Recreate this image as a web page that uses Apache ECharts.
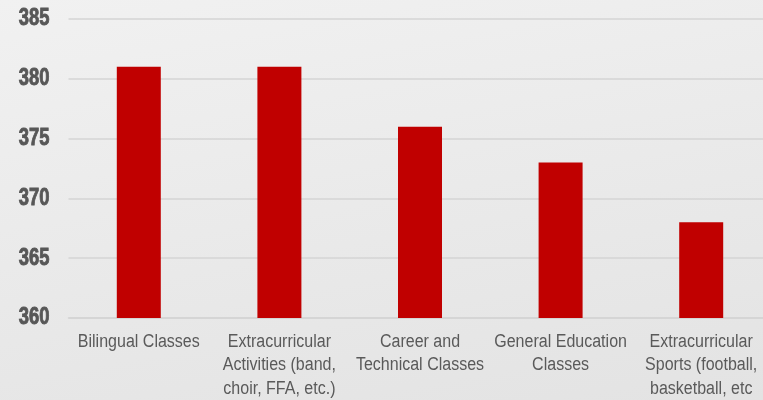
<!DOCTYPE html>
<html>
<head>
<meta charset="utf-8">
<script src="https://cdn.jsdelivr.net/npm/echarts@6/dist/echarts.min.js"></script>
<style>
  html, body { margin: 0; padding: 0; }
  body {
    width: 763px; height: 400px; overflow: hidden;
    background: linear-gradient(170deg, #f1f1f1 0%, #eaeaea 50%, #e3e3e3 100%);
  }
  #chart { width: 763px; height: 400px; }
</style>
</head>
<body>
<div id="chart"></div>
<script>
// Course categories (line breaks as shown under each bar)
const categories = [
  'Bilingual Classes',
  'Extracurricular\nActivities (band,\nchoir, FFA, etc.)',
  'Career and\nTechnical Classes',
  'General Education\nClasses',
  'Extracurricular\nSports (football,\nbasketball, etc'
];
const scores = [381, 381, 376, 373, 368];
const yTickLabels = [360, 365, 370, 375, 380, 385];

const GRID_LEFT = 68.5;
const chart = echarts.init(document.getElementById('chart'), null, { renderer: 'canvas' });

chart.setOption({
  backgroundColor: 'transparent',
  animation: false,
  grid: { left: GRID_LEFT, top: 19, width: 703, bottom: 82, containLabel: false, outerBoundsMode: 'none' },
  xAxis: {
    type: 'category',
    data: categories,
    axisTick: { show: false },
    axisLine: { show: true, lineStyle: { color: '#d4d4d4', width: 1.5 } },
    axisLabel: { show: false }
  },
  yAxis: {
    type: 'value',
    min: yTickLabels[0],
    max: yTickLabels[yTickLabels.length - 1],
    interval: yTickLabels[1] - yTickLabels[0],
    axisLine: { show: false },
    axisTick: { show: false },
    splitLine: { lineStyle: { color: '#d4d4d4', width: 1.5 } },
    axisLabel: { show: false }
  },
  series: [{
    type: 'bar',
    data: scores,
    barWidth: 44,
    itemStyle: { color: '#c00000' }
  }]
});

// Condensed tick and category labels, placed through the axes' own scales
const baseY = chart.convertToPixel({ yAxisIndex: 0 }, yTickLabels[0]);
const labels = [];
yTickLabels.forEach(v => {
  labels.push({
    type: 'text',
    x: GRID_LEFT - 19,
    y: chart.convertToPixel({ yAxisIndex: 0 }, v),
    scaleX: 0.8,
    silent: true,
    style: {
      text: String(v),
      font: 'bold 23px "Liberation Sans", Arial, sans-serif',
      fill: '#575757',
      stroke: '#575757',
      lineWidth: 0.9,
      align: 'right',
      verticalAlign: 'middle'
    }
  });
});
categories.forEach((c, i) => {
  labels.push({
    type: 'text',
    x: chart.convertToPixel({ xAxisIndex: 0 }, i),
    y: baseY + 12,
    scaleX: 0.89,
    silent: true,
    style: {
      text: c,
      font: '18px "Liberation Sans", Arial, sans-serif',
      lineHeight: 23.5,
      fill: '#5a5a5a',
      align: 'center',
      verticalAlign: 'top'
    }
  });
});
chart.setOption({ graphic: labels });
</script>
</body>
</html>
